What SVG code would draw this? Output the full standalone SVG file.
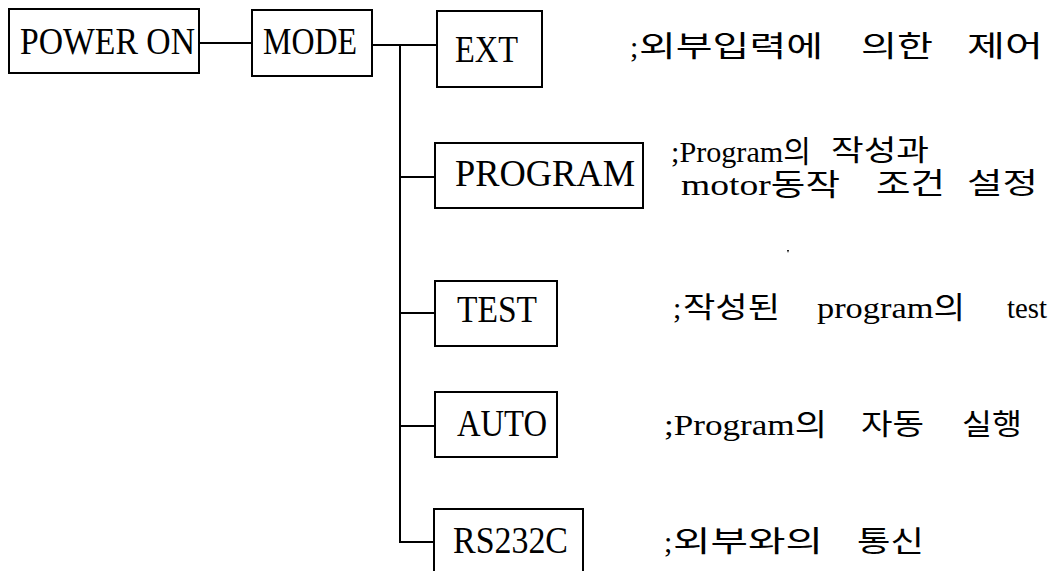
<svg xmlns="http://www.w3.org/2000/svg" width="1063" height="571" viewBox="0 0 1063 571">
<style>
.box{fill:#fff;stroke:#000;stroke-width:2}
.bt{font-family:"Liberation Serif","Times New Roman",serif;font-size:37px;fill:#000}
.lb{font-family:"Liberation Serif","Noto Sans CJK KR",serif;font-size:30px;fill:#000}
.ko{font-family:"Noto Sans CJK KR",sans-serif;font-size:29px;fill:#000}
.conn{stroke:#000;stroke-width:2;fill:none}
</style>
<rect width="1063" height="571" fill="#fff"/>
<g id="connectors">
<line class="conn" x1="199" y1="43" x2="252" y2="43"/>
<line class="conn" x1="372" y1="45" x2="437" y2="45"/>
<line class="conn" x1="400" y1="45" x2="400" y2="543"/>
<line class="conn" x1="399" y1="177" x2="435" y2="177"/>
<line class="conn" x1="399" y1="313" x2="435" y2="313"/>
<line class="conn" x1="399" y1="426" x2="435" y2="426"/>
<line class="conn" x1="399" y1="542" x2="434" y2="542"/>
</g>
<g id="power-on">
<rect class="box" x="9" y="9" width="190" height="64"/>
<text class="bt" x="20" y="54" textLength="175" lengthAdjust="spacingAndGlyphs">POWER ON</text>
</g>
<g id="mode">
<rect class="box" x="252" y="10" width="120" height="66"/>
<text class="bt" x="263" y="54" textLength="94" lengthAdjust="spacingAndGlyphs">MODE</text>
</g>
<g id="ext">
<rect class="box" x="437" y="11" width="105" height="76"/>
<text class="bt" x="455" y="62" textLength="63" lengthAdjust="spacingAndGlyphs">EXT</text>
<text class="lb" x="630" y="57">;</text>
<text class="ko" x="639" y="57" textLength="184" lengthAdjust="spacingAndGlyphs">외부입력에</text>
<text class="ko" x="861" y="57" textLength="72" lengthAdjust="spacingAndGlyphs">의한</text>
<text class="ko" x="967" y="57" textLength="76" lengthAdjust="spacingAndGlyphs">제어</text>
</g>
<g id="program">
<rect class="box" x="435" y="143" width="208" height="65"/>
<text class="bt" x="455" y="186" textLength="180" lengthAdjust="spacingAndGlyphs">PROGRAM</text>
<text class="lb" x="671" y="162" textLength="140" lengthAdjust="spacingAndGlyphs">;Program의</text>
<text class="ko" x="831" y="161" textLength="98" lengthAdjust="spacingAndGlyphs">작성과</text>
<text class="lb" x="681" y="195" textLength="159" lengthAdjust="spacingAndGlyphs">motor동작</text>
<text class="ko" x="876" y="194" textLength="69" lengthAdjust="spacingAndGlyphs">조건</text>
<text class="ko" x="967" y="194" textLength="71" lengthAdjust="spacingAndGlyphs">설정</text>
</g>
<g id="test">
<rect class="box" x="435" y="281" width="122" height="65"/>
<text class="bt" x="457" y="322" textLength="80" lengthAdjust="spacingAndGlyphs">TEST</text>
<text class="lb" x="673" y="318">;</text>
<text class="ko" x="683" y="318" textLength="97" lengthAdjust="spacingAndGlyphs">작성된</text>
<text class="lb" x="817" y="318" textLength="148" lengthAdjust="spacingAndGlyphs">program의</text>
<text class="lb" x="1007" y="318" textLength="40" lengthAdjust="spacingAndGlyphs">test</text>
</g>
<g id="auto">
<rect class="box" x="435" y="392" width="122" height="65"/>
<text class="bt" x="457" y="436" textLength="90" lengthAdjust="spacingAndGlyphs">AUTO</text>
<text class="lb" x="664" y="435" textLength="163" lengthAdjust="spacingAndGlyphs">;Program의</text>
<text class="ko" x="861" y="435" textLength="63" lengthAdjust="spacingAndGlyphs">자동</text>
<text class="ko" x="962" y="435" textLength="60" lengthAdjust="spacingAndGlyphs">실행</text>
</g>
<g id="rs232c">
<rect class="box" x="434" y="509" width="149" height="75"/>
<text class="bt" x="453" y="553" textLength="115" lengthAdjust="spacingAndGlyphs">RS232C</text>
<text class="lb" x="664" y="552">;</text>
<text class="ko" x="673" y="552" textLength="150" lengthAdjust="spacingAndGlyphs">외부와의</text>
<text class="ko" x="857" y="552" textLength="67" lengthAdjust="spacingAndGlyphs">통신</text>
</g>
<path d="M787 250 l2 0 l-1 3 z" fill="#000"/>
</svg>
